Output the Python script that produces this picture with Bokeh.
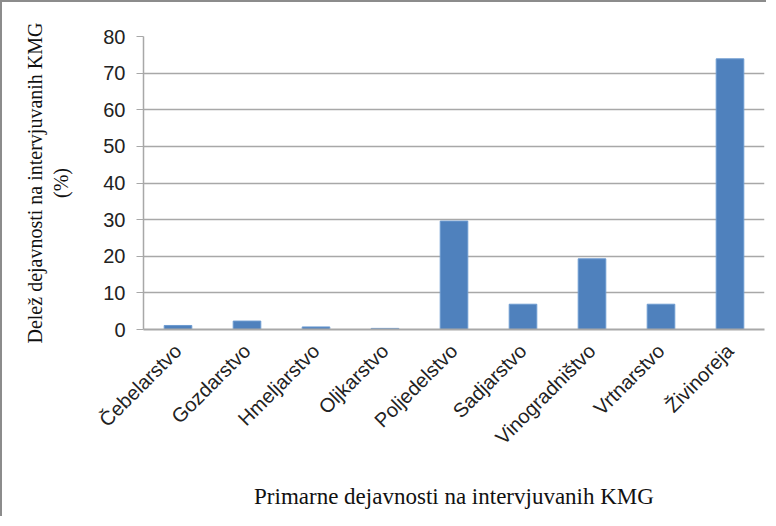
import math
from bokeh.plotting import figure
from bokeh.models import Range1d, SingleIntervalTicker
from bokeh.embed import file_html
from bokeh.resources import INLINE

categories = ["Čebelarstvo", "Gozdarstvo", "Hmeljarstvo", "Oljkarstvo", "Poljedelstvo",
              "Sadjarstvo", "Vinogradništvo", "Vrtnarstvo", "Živinoreja"]
shares = [1.1, 2.3, 0.7, 0.3, 29.6, 6.9, 19.3, 6.9, 73.9]

p = figure(x_range=categories, y_range=Range1d(0, 80), width=766, height=516,
           output_backend="svg", toolbar_location=None,
           min_border_left=141, min_border_right=4, min_border_top=34, min_border_bottom=189)
p.styles = {"border-left": "2px solid #8c8c8c", "border-top": "2px solid #8c8c8c"}

p.vbar(x=categories, top=shares, width=0.4, color="#4F81BD", line_color="#6C9AD0", line_width=1)

p.outline_line_color = None
p.xgrid.grid_line_color = None
p.ygrid.grid_line_color = "#A8A8A8"
p.ygrid.grid_line_width = 1.5
p.yaxis.ticker = SingleIntervalTicker(interval=10)

p.yaxis.axis_line_color = "#A8A8A8"
p.yaxis.axis_line_width = 1.5
p.yaxis.major_tick_line_color = "#A8A8A8"
p.yaxis.major_tick_out = 7
p.yaxis.major_tick_in = 0
p.yaxis.minor_tick_line_color = None
p.yaxis.major_label_text_font = "Liberation Sans"
p.yaxis.major_label_text_font_size = "20px"
p.yaxis.major_label_text_color = "#222222"
p.yaxis.major_label_standoff = 11
p.yaxis.axis_label = "Delež dejavnosti na intervjuvanih KMG\n(%)"
p.yaxis.axis_label_text_font = "Liberation Serif"
p.yaxis.axis_label_text_font_style = "normal"
p.yaxis.axis_label_text_font_size = "20px"
p.yaxis.axis_label_text_color = "#111111"
p.yaxis.axis_label_standoff = 28

p.xaxis.axis_line_color = "#A8A8A8"
p.xaxis.axis_line_width = 2
p.xaxis.major_tick_line_color = None
p.xaxis.minor_tick_line_color = None
p.xaxis.major_label_orientation = math.pi / 4
p.xaxis.major_label_text_font = "Liberation Sans"
p.xaxis.major_label_text_font_size = "20px"
p.xaxis.major_label_text_color = "#222222"
p.xaxis.major_label_standoff = 12
p.xaxis.axis_label = "Primarne dejavnosti na intervjuvanih KMG"
p.xaxis.axis_label_text_font = "Liberation Serif"
p.xaxis.axis_label_text_font_style = "normal"
p.xaxis.axis_label_text_font_size = "23px"
p.xaxis.axis_label_text_color = "#111111"
p.xaxis.axis_label_standoff = 25

open("out.html", "w").write(file_html(p, INLINE))
